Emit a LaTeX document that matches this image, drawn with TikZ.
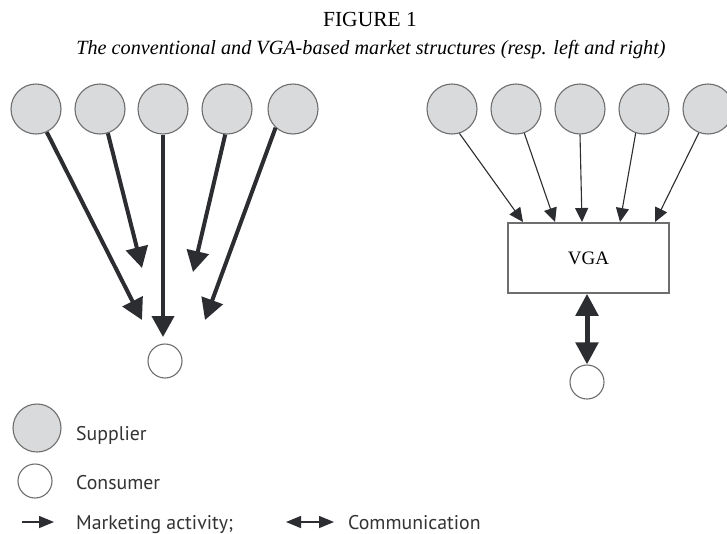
\documentclass[tikz,border=0pt]{standalone}
\usepackage{fontspec}
\setmainfont{Liberation Serif}
\newfontfamily\legendfont{PT Sans}
\usetikzlibrary{arrows.meta}
\definecolor{supfill}{HTML}{D9DADB}
\definecolor{edgegray}{HTML}{6E6E6E}
\definecolor{arrowdark}{HTML}{2B2D31}
\tikzset{
  supplier/.style={circle, draw=edgegray, line width=1.1pt, fill=supfill, minimum size=50pt, inner sep=0pt},
  consumer/.style={circle, draw=edgegray, line width=1.1pt, fill=white, minimum size=34pt, inner sep=0pt},
  thickarrow/.style={draw=arrowdark, line width=4pt, -{Triangle[length=21pt,width=22pt]}},
  thinarrow/.style={draw=arrowdark, line width=1.1pt, -{Triangle[length=14pt,width=13pt]}},
  commarrow/.style={draw=arrowdark, line width=5pt, {Triangle[length=22pt,width=22pt]}-{Triangle[length=22pt,width=22pt]}},
  legarrow/.style={draw=arrowdark, line width=1.5pt},
  legtip/.tip={Triangle[length=15pt,width=12pt]},
  vgabox/.style={draw=edgegray, line width=1.5pt, fill=white, minimum width=161pt, minimum height=70pt, inner sep=0pt},
  legtext/.style={anchor=base west, inner sep=0pt, font=\legendfont\fontsize{19.8}{20}\selectfont, text=black!80},
}
\begin{document}
\begin{tikzpicture}[x=1pt,y=-1pt]
\useasboundingbox[fill=white] (0,0) rectangle (727,533);
% titles
\node[anchor=base, inner sep=0pt, font=\fontsize{21.5}{22}\selectfont] (title) at (370,26) {FIGURE 1};
\node[anchor=base, inner sep=0pt, font=\itshape\fontsize{20.2}{21}\selectfont] (subtitle) at (371,54) {The conventional and VGA-based market structures (resp. left and right)};
% left structure
\node[supplier] (s1) at (36,109) {};
\node[supplier] (s2) at (100,109) {};
\node[supplier] (s3) at (163,109) {};
\node[supplier] (s4) at (227,109) {};
\node[supplier] (s5) at (293,109) {};
\node[consumer] (c1) at (165,361) {};
\coordinate (t1) at (142,320);
\coordinate (t2) at (142,268);
\coordinate (t3) at (163,337);
\coordinate (t4) at (193,272);
\coordinate (t5) at (205,320);
\draw[thickarrow] (s1.295) -- (t1);
\draw[thickarrow] (s2.288) -- (t2);
\draw[thickarrow] (s3.270) -- (t3);
\draw[thickarrow] (s4.266) -- (t4);
\draw[thickarrow] (s5.227) -- (t5);
% right structure
\node[supplier] (r1) at (452,109) {};
\node[supplier] (r2) at (516,109) {};
\node[supplier] (r3) at (580,109) {};
\node[supplier] (r4) at (644,109) {};
\node[supplier] (r5) at (708,109) {};
\node[vgabox] (vga) at (588.5,258) {\fontsize{19}{19}\selectfont VGA};
\node[consumer] (c2) at (587,382) {};
\coordinate (u1) at (523,222);
\coordinate (u2) at (555,222);
\coordinate (u3) at (582,222);
\coordinate (u4) at (620,222);
\coordinate (u5) at (655,222);
\draw[thinarrow] (r1.287) -- (u1);
\draw[thinarrow] (r2.289) -- (u2);
\draw[thinarrow] (r3.270) -- (u3);
\draw[thinarrow] (r4.251) -- (u4);
\draw[thinarrow] (r5.249) -- (u5);
\draw[commarrow] (vga.south -| c2) -- (c2.north);
% legend
\node[supplier, minimum size=48pt] (ls) at (37,428) {};
\node[consumer] (lc) at (35,481) {};
\node[legtext] (lst) at (76,440) {Supplier};
\node[legtext] (lct) at (76,489) {Consumer};
\coordinate (la1) at (22,522);
\coordinate (la2) at (54,522);
\draw[legarrow, -legtip] (la1) -- (la2);
\node[legtext] (lmt) at (76,529) {Marketing activity;};
\coordinate (lb1) at (286,522);
\coordinate (lb2) at (334,522);
\draw[legarrow, legtip-legtip] (lb1) -- (lb2);
\node[legtext] (lbt) at (348,529) {Communication};
\end{tikzpicture}
\end{document}
